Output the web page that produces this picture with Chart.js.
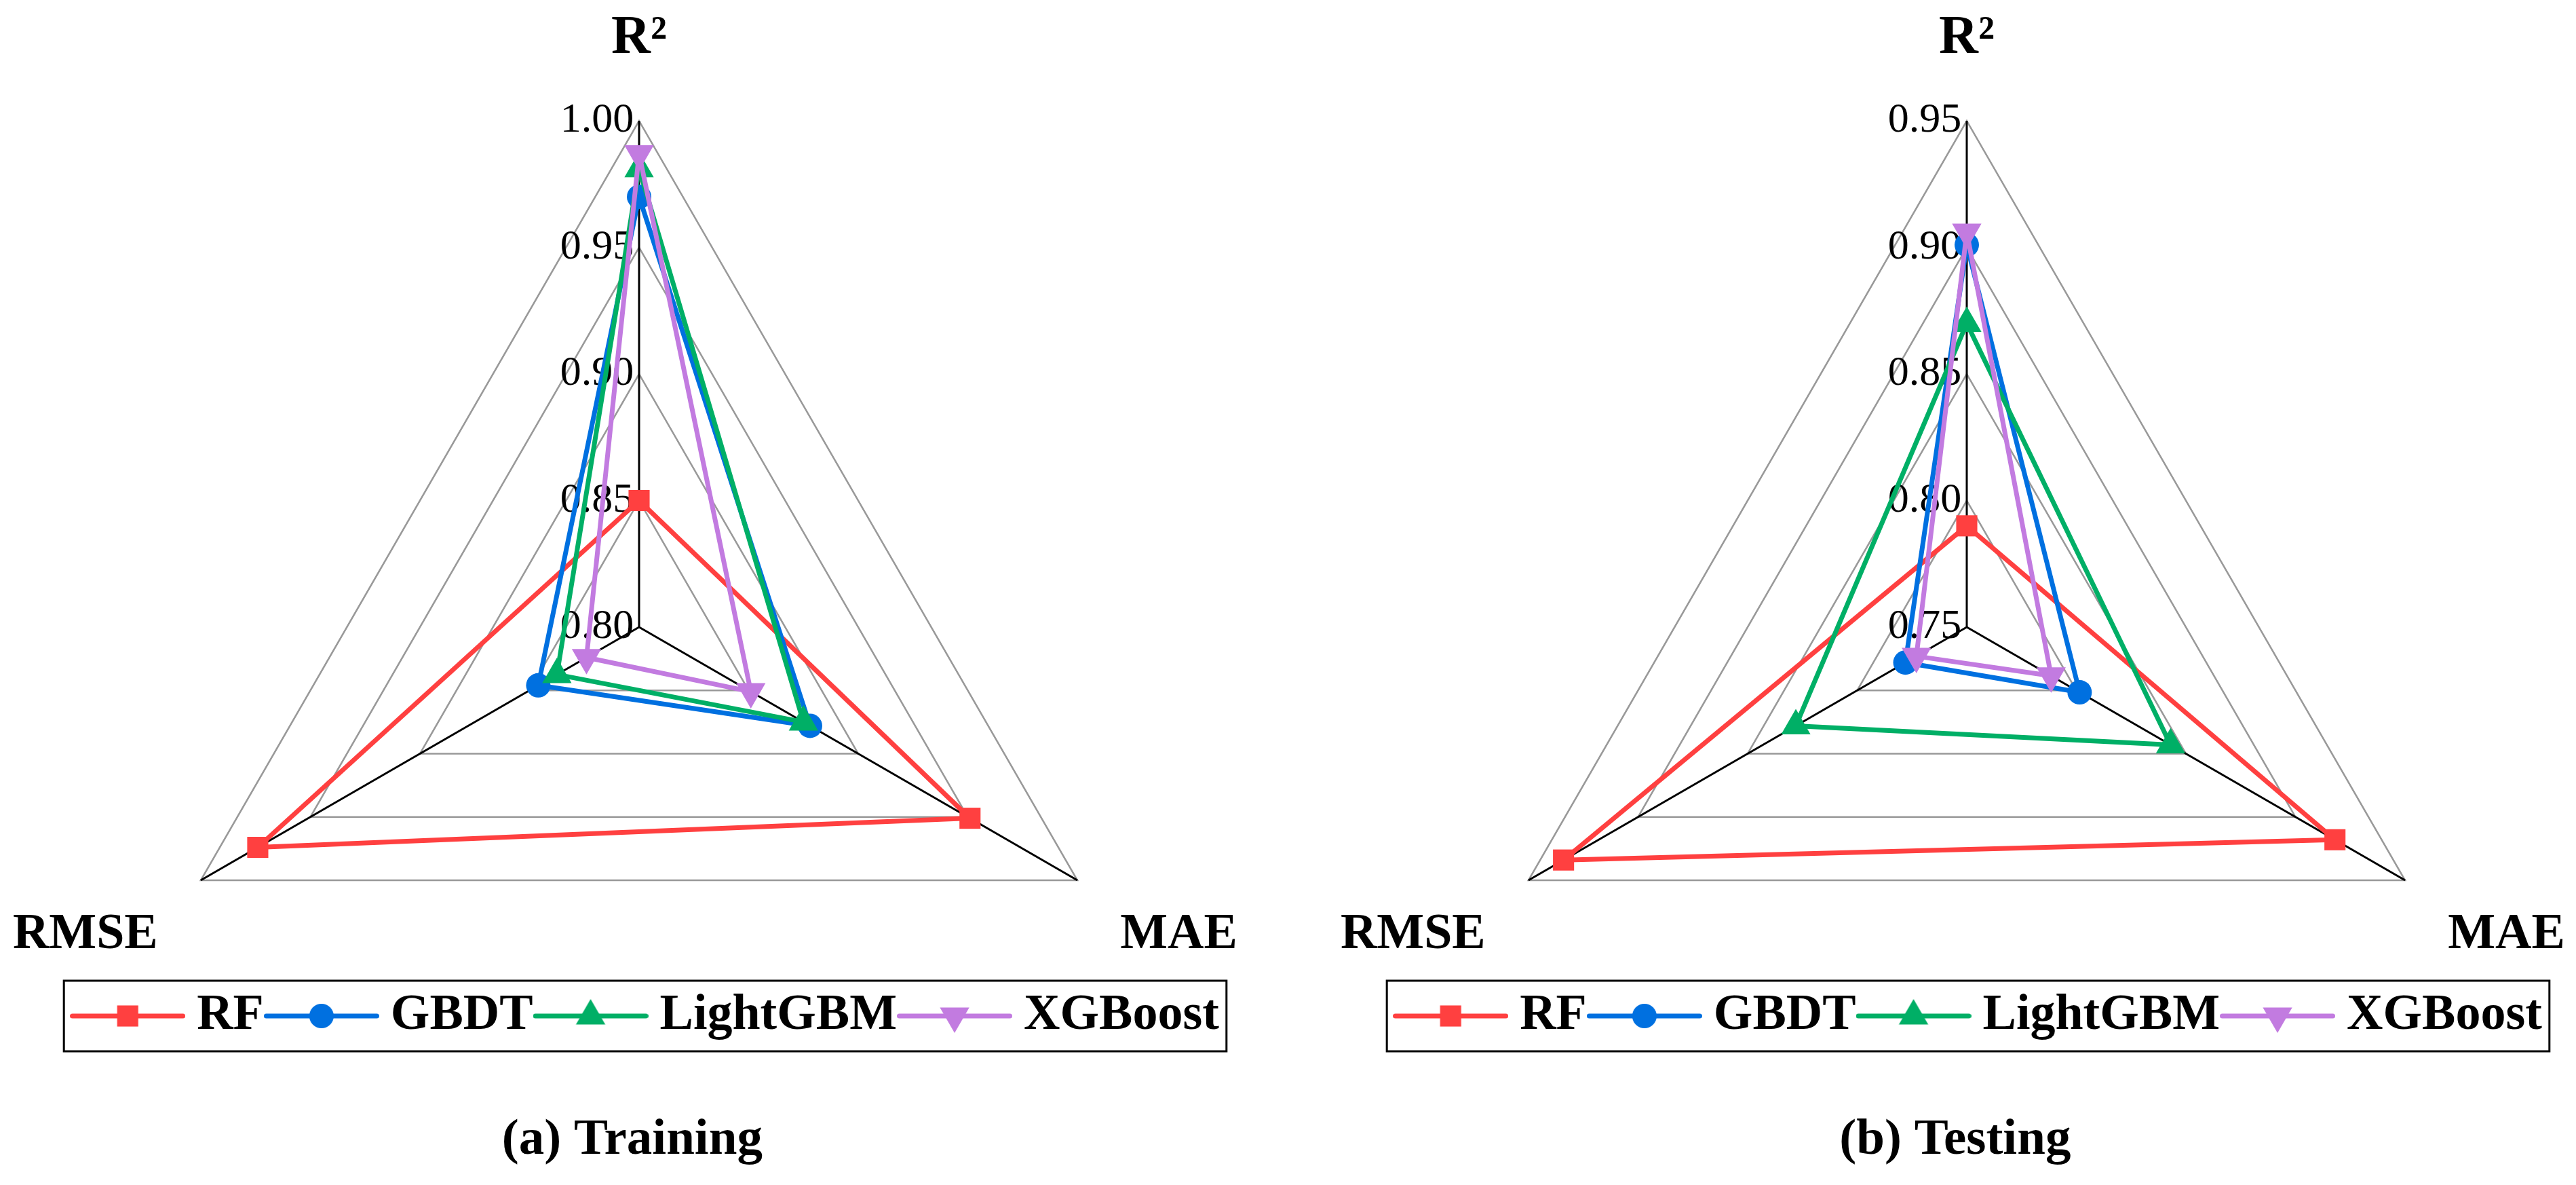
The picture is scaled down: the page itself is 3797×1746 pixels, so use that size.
<!DOCTYPE html>
<html>
<head>
<meta charset="utf-8">
<script src="https://cdn.jsdelivr.net/npm/chart.js@4/dist/chart.umd.min.js"></script>
<style>
html, body { margin:0; padding:0; background:#fff; overflow:hidden; width:3797px; height:1746px; }
canvas { position:absolute; top:0; }
#c1 { left:0; }
#c2 { left:1957px; }
</style>
</head>
<body>
<canvas id="c1" width="1898" height="1746" style="width:1898px;height:1746px"></canvas>
<canvas id="c2" width="1884" height="1746" style="width:1884px;height:1746px"></canvas>
<script>
// ---------- data ----------
const axisLabels = ['R²', 'MAE', 'RMSE'];
const seriesNames = ['RF', 'GBDT', 'LightGBM', 'XGBoost'];

const trainRF       = [0.850, 0.951, 0.974];
const trainGBDT     = [0.970, 0.878, 0.846];
const trainLightGBM = [0.981, 0.875, 0.8375];
const trainXGBoost  = [0.987, 0.851, 0.824];

const testRF        = [0.790, 0.918, 0.934];
const testGBDT      = [0.901, 0.8015, 0.778];
const testLightGBM  = [0.870, 0.843, 0.828];
const testXGBoost   = [0.906, 0.7885, 0.773];

const trainTicks = [0.80, 0.85, 0.90, 0.95, 1.00];
const testTicks  = [0.75, 0.80, 0.85, 0.90, 0.95];

const trainTitle = '(a) Training';
const testTitle  = '(b) Testing';

// ---------- styles ----------
const FONT = "'Liberation Serif', 'Times New Roman', serif";
Chart.defaults.font.family = FONT;
Chart.defaults.color = '#000';

const styles = [
  { color: '#FF4040', shape: 'rect',     radius: 22, rotation: 0 },
  { color: '#0070E0', shape: 'circle',   radius: 18, rotation: 0 },
  { color: '#00AF66', shape: 'triangle', radius: 25, rotation: 0 },
  { color: '#C27BE0', shape: 'triangle', radius: 25, rotation: 180 }
];

function legendIcon(st) {
  const c = document.createElement('canvas');
  c.width = 170; c.height = 60;
  const g = c.getContext('2d');
  g.strokeStyle = st.color; g.lineWidth = 7; g.lineCap = 'round';
  g.beginPath(); g.moveTo(3.5, 30); g.lineTo(166.5, 30); g.stroke();
  g.fillStyle = st.color;
  const x = 85, y = 30, r = st.radius;
  g.beginPath();
  if (st.shape === 'rect') {
    const s = r * Math.SQRT1_2;
    g.rect(x - s, y - s, 2 * s, 2 * s);
  } else if (st.shape === 'circle') {
    g.arc(x, y, r, 0, Math.PI * 2);
  } else {
    let a = st.rotation * Math.PI / 180;
    g.moveTo(x + Math.sin(a) * r, y - Math.cos(a) * r);
    a += 2 * Math.PI / 3;
    g.lineTo(x + Math.sin(a) * r, y - Math.cos(a) * r);
    a += 2 * Math.PI / 3;
    g.lineTo(x + Math.sin(a) * r, y - Math.cos(a) * r);
    g.closePath();
  }
  g.fill();
  return c;
}

const legendBorder = {
  id: 'legendBorder',
  afterDraw(chart) {
    const lg = chart.legend;
    if (!lg || !lg.legendHitBoxes || !lg.legendHitBoxes.length) return;
    const hb = lg.legendHitBoxes;
    const last = hb[hb.length - 1];
    const left = hb[0].left - 29;
    const right = last.left + last.width + 11;
    const ctx = chart.ctx;
    ctx.save();
    ctx.strokeStyle = '#000';
    ctx.lineWidth = 3;
    ctx.strokeRect(left, lg.top + 5, right - left, 104);
    ctx.restore();
  }
};

function makeChart(id, seriesData, tickVals, title) {
  const icons = styles.map(legendIcon);
  return new Chart(document.getElementById(id), {
    type: 'radar',
    data: {
      labels: axisLabels,
      datasets: seriesNames.map((name, i) => ({
        label: name,
        data: seriesData[i],
        borderColor: styles[i].color,
        backgroundColor: styles[i].color,
        borderWidth: 7,
        borderJoinStyle: 'round',
        fill: false,
        tension: 0,
        pointStyle: styles[i].shape,
        pointRadius: styles[i].radius,
        pointHoverRadius: styles[i].radius,
        pointRotation: styles[i].rotation,
        pointBackgroundColor: styles[i].color,
        pointBorderColor: styles[i].color,
        pointBorderWidth: 0,
        order: 3 - i
      }))
    },
    options: {
      responsive: false,
      animation: false,
      events: [],
      layout: { padding: { left: 22, right: 0, top: 0, bottom: 0 } },
      scales: {
        r: {
          min: tickVals[0],
          max: tickVals[tickVals.length - 1],
          startAngle: 0,
          afterSetDimensions(s) {
            s.xCenter = 942; s.yCenter = 924; s.drawingArea = 746;
            s.left = -100000; s.right = 100000; s.top = -100000; s.bottom = 100000;
          },
          afterBuildTicks(s) {
            s.ticks = [{ value: tickVals[0] }].concat(tickVals.map(v => ({ value: v })));
          },
          ticks: {
            display: true,
            showLabelBackdrop: false,
            backdropPadding: 2,
            color: '#000',
            font: { size: 62, weight: 'normal', family: FONT },
            callback: (v) => Number(v).toFixed(2) + '        '
          },
          grid: {
            circular: false,
            color: (c) => (c.index <= 1 ? 'rgba(0,0,0,0)' : '#999999'),
            lineWidth: 2.5
          },
          angleLines: { color: '#000', lineWidth: 3 },
          pointLabels: {
            color: '#000',
            padding: 40,
            font: (c) => ({ size: c.index === 0 ? 80 : 74, weight: 'bold', family: FONT })
          }
        }
      },
      plugins: {
        tooltip: { enabled: false },
        legend: {
          display: true,
          position: 'bottom',
          align: 'center',
          labels: {
            usePointStyle: true,
            pointStyleWidth: 130,
            padding: 20,
            color: '#000',
            font: { size: 74, weight: 'bold', family: FONT },
            generateLabels: (chart) => chart.data.datasets.map((ds, i) => ({
              text: ds.label,
              pointStyle: icons[i],
              fillStyle: ds.borderColor,
              strokeStyle: ds.borderColor,
              lineWidth: 0,
              hidden: false,
              rotation: 0,
              datasetIndex: i,
              fontColor: '#000'
            }))
          }
        },
        title: {
          display: true,
          position: 'bottom',
          text: title + '   ',
          color: '#000',
          font: { size: 75, weight: 'bold', family: FONT },
          padding: { top: 92, bottom: 20 }
        }
      }
    },
    plugins: [legendBorder]
  });
}

makeChart('c1', [trainRF, trainGBDT, trainLightGBM, trainXGBoost], trainTicks, trainTitle);
makeChart('c2', [testRF, testGBDT, testLightGBM, testXGBoost], testTicks, testTitle);
</script>
</body>
</html>
